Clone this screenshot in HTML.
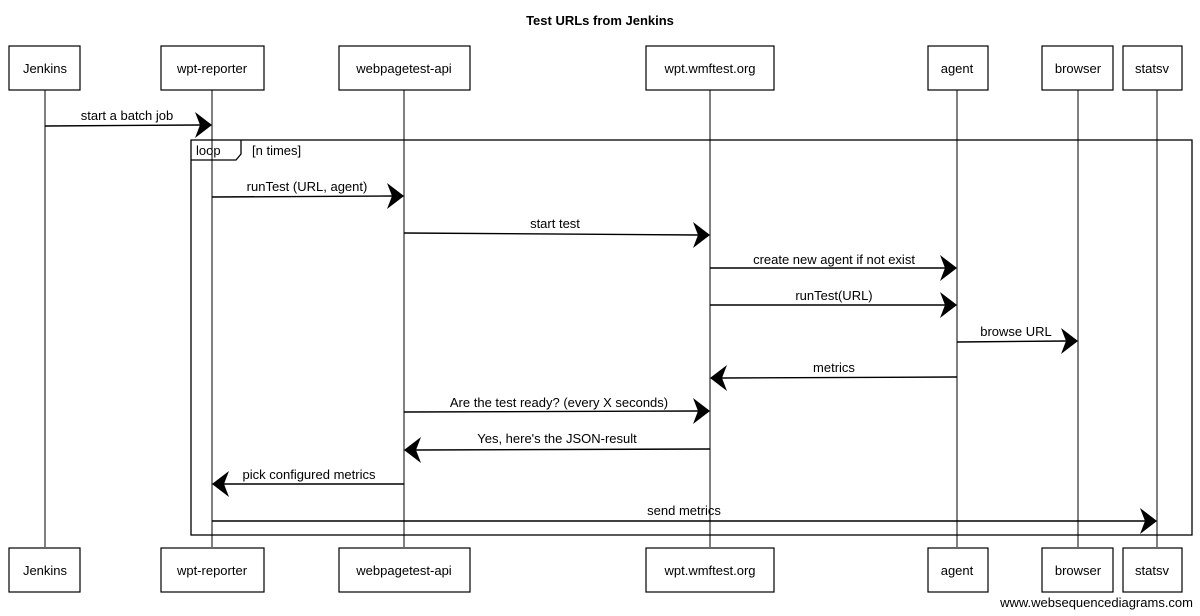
<!DOCTYPE html>
<html><head><meta charset="utf-8"><style>
html,body{margin:0;padding:0;background:#fff;}
svg{display:block;}
text{font-family:"Liberation Sans",sans-serif;font-size:13px;fill:#000;}
</style></head><body>
<svg width="1200" height="616" viewBox="0 0 1200 616" xmlns="http://www.w3.org/2000/svg">
<text x="600" y="25" text-anchor="middle" font-size="15" font-weight="bold">Test URLs from Jenkins</text>
<g stroke="#000" stroke-width="1" fill="none">
<!-- lifelines -->
<line x1="45" y1="90" x2="45" y2="547"/>
<line x1="212" y1="90" x2="212" y2="547"/>
<line x1="404" y1="90" x2="404" y2="547"/>
<line x1="710" y1="90" x2="710" y2="547"/>
<line x1="957" y1="90" x2="957" y2="547"/>
<line x1="1078" y1="90" x2="1078" y2="547"/>
<line x1="1157" y1="90" x2="1157" y2="547"/>
</g>
<g stroke="#000" stroke-width="1.2" fill="#fff">
<rect x="9" y="46" width="71" height="44"/>
<rect x="161" y="46" width="103" height="44"/>
<rect x="339" y="46" width="131" height="44"/>
<rect x="646" y="46" width="128" height="44"/>
<rect x="928" y="46" width="60" height="44"/>
<rect x="1042" y="46" width="71" height="44"/>
<rect x="1123" y="46" width="59" height="44"/>
<rect x="9" y="548" width="71" height="44"/>
<rect x="161" y="548" width="103" height="44"/>
<rect x="339" y="548" width="131" height="44"/>
<rect x="646" y="548" width="128" height="44"/>
<rect x="928" y="548" width="60" height="44"/>
<rect x="1042" y="548" width="71" height="44"/>
<rect x="1123" y="548" width="59" height="44"/>
</g>
<g text-anchor="middle">
<text x="45" y="73">Jenkins</text><text x="212" y="73">wpt-reporter</text><text x="404" y="73">webpagetest-api</text>
<text x="710" y="73">wpt.wmftest.org</text><text x="957" y="73">agent</text><text x="1078" y="73">browser</text><text x="1152" y="73">statsv</text>
<text x="45" y="575">Jenkins</text><text x="212" y="575">wpt-reporter</text><text x="404" y="575">webpagetest-api</text>
<text x="710" y="575">wpt.wmftest.org</text><text x="957" y="575">agent</text><text x="1078" y="575">browser</text><text x="1152" y="575">statsv</text>
</g>
<!-- loop frame -->
<g stroke="#000" stroke-width="1.3" fill="none">
<rect x="191" y="140" width="1001" height="395"/>
<path d="M191 160 H236 L241 154 V140"/>
</g>
<text x="196" y="155">loop</text>
<text x="252" y="155">[n times]</text>
<!-- messages -->
<g stroke="#000" stroke-width="1.4" fill="none">
<line x1="45" y1="126" x2="200" y2="125"/>
<line x1="212" y1="197" x2="392" y2="196"/>
<line x1="404" y1="233" x2="698" y2="235"/>
<line x1="710" y1="268" x2="945" y2="268"/>
<line x1="710" y1="305" x2="945" y2="305"/>
<line x1="957" y1="342" x2="1066" y2="341"/>
<line x1="957" y1="377" x2="722" y2="378"/>
<line x1="404" y1="412" x2="698" y2="411"/>
<line x1="710" y1="449" x2="416" y2="450"/>
<line x1="404" y1="484" x2="224" y2="484"/>
<line x1="212" y1="521" x2="1145" y2="521"/>
</g>
<g fill="#000">
<polygon points="212,125 195,112 200,125 195,138"/>
<polygon points="404,196 387,183 392,196 387,209"/>
<polygon points="710,235 693,222 698,235 693,248"/>
<polygon points="957,268 940,255 945,268 940,281"/>
<polygon points="957,305 940,292 945,305 940,318"/>
<polygon points="1078,341 1061,328 1066,341 1061,354"/>
<polygon points="710,378 727,365 722,378 727,391"/>
<polygon points="710,411 693,398 698,411 693,424"/>
<polygon points="404,450 421,437 416,450 421,463"/>
<polygon points="212,484 229,471 224,484 229,497"/>
<polygon points="1157,521 1140,508 1145,521 1140,534"/>
</g>
<g text-anchor="middle">
<text x="127" y="120">start a batch job</text>
<text x="307" y="191">runTest (URL, agent)</text>
<text x="555" y="228">start test</text>
<text x="834" y="264">create new agent if not exist</text>
<text x="834" y="300">runTest(URL)</text>
<text x="1016" y="336">browse URL</text>
<text x="834" y="372">metrics</text>
<text x="559" y="407">Are the test ready? (every X seconds)</text>
<text x="557" y="443">Yes, here's the JSON-result</text>
<text x="309" y="479">pick configured metrics</text>
<text x="684" y="515">send metrics</text>
</g>
<text x="1193" y="607" text-anchor="end" font-size="13" fill="#222">www.websequencediagrams.com</text>
</svg>
</body></html>
